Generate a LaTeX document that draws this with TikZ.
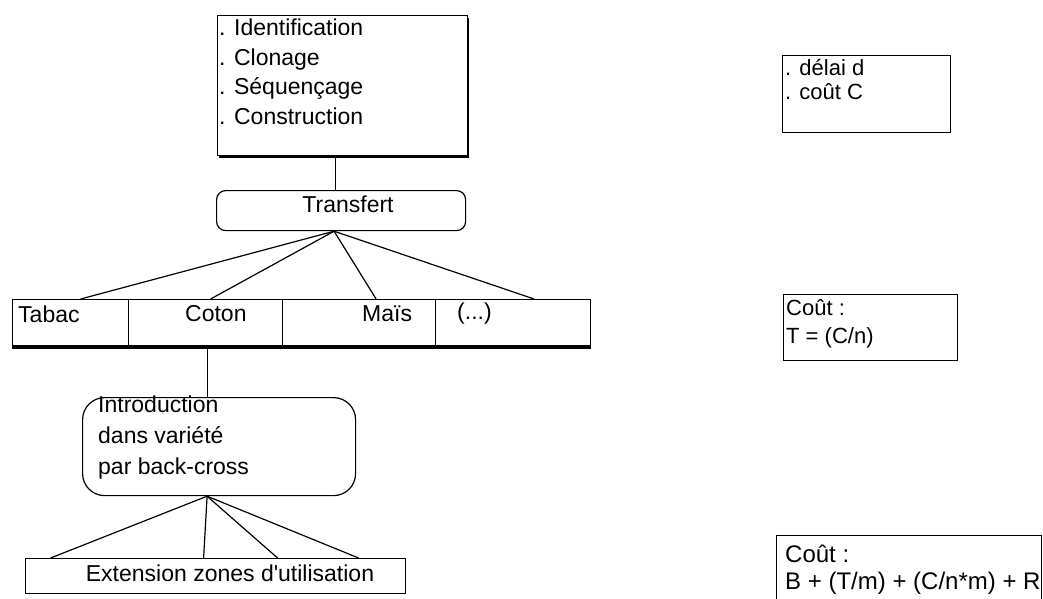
\documentclass[tikz,border=0pt]{standalone}
\usepackage{fontspec}
\setmainfont{Liberation Sans}
\usetikzlibrary{shadows}

\tikzset{
  frame/.style={draw, line width=1.2pt, inner sep=0pt, anchor=north west},
  shadowed/.style={frame, fill=white, drop shadow={shadow xshift=1.6pt, shadow yshift=-2.6pt, opacity=1, fill=black}},
  roundframe/.style={frame, rounded corners=#1},
  txt/.style={inner sep=0pt, anchor=north west, align=left},
  link/.style={line width=1.2pt},
}

\begin{document}
\begin{tikzpicture}[x=1pt, y=-1pt, every node/.style={font=\fontsize{23}{29.5}\selectfont}]
\useasboundingbox (0,0) rectangle (1043,598);

\node[shadowed, minimum width=250pt, minimum height=140pt] (ident) at (217,15) {};
\node[txt] (identtxt) at (219,19) {. Identification\\. Clonage\\. Séquençage\\. Construction};

\node[roundframe=9pt, minimum width=249pt, minimum height=40pt] (transfert) at (216,190) {};
\node (transferttxt) at (348,204) {Transfert};

\node[frame, minimum width=116pt, minimum height=46pt] (tabac) at (12,299) {};
\node[frame, minimum width=154pt, minimum height=46pt] (coton) at (128,299) {};
\node[frame, minimum width=153pt, minimum height=46pt] (mais) at (282,299) {};
\node[frame, minimum width=155pt, minimum height=46pt] (etc) at (435,299) {};
\draw[line width=2.6pt] ([yshift=-1pt]tabac.south west) -- ([yshift=-1pt]etc.south east);
\node[inner sep=0pt, anchor=west] (tabactxt) at ([shift={(6,15)}]tabac.north west) {Tabac};
\node[inner sep=0pt, anchor=west] (cotontxt) at ([shift={(57,15)}]coton.north west) {Coton};
\node[inner sep=0pt, anchor=west] (maistxt) at ([shift={(80,15)}]mais.north west) {Maïs};
\node[inner sep=0pt, anchor=west] (etctxt) at ([shift={(22,15)}]etc.north west) {(...)};

\node[roundframe=22pt, minimum width=273pt, minimum height=98pt] (intro) at (82,397) {};
\node[txt, font=\fontsize{23}{31}\selectfont] (introtxt) at (98,396) {Introduction\\dans variété\\par back-cross};

\node[frame, minimum width=380pt, minimum height=35pt] (ext) at (25,558) {};
\node (exttxt) at ([shift={(205,15)}]ext.north west) {Extension zones d\textquotesingle utilisation};

\node[frame, line width=1pt, minimum width=168pt, minimum height=77pt] (delai) at (782,55) {};
\node[txt, font=\fontsize{22}{24}\selectfont] (delaitxt) at (785,59) {. délai d\\. coût C};

\node[frame, line width=1pt, minimum width=174pt, minimum height=66pt] (coutt) at (783,294) {};
\node[txt, font=\fontsize{22}{28}\selectfont] (coutttxt) at (786,299) {Coût :\\T = (C/n)};

\node[frame, line width=1pt, minimum width=265pt, minimum height=80pt] (coutb) at (776,535) {};
\node[txt, font=\fontsize{24}{27}\selectfont] (coutbtxt) at (785,545) {Coût :\\B + (T/m) + (C/n*m) + R};

\draw[link] ([xshift=-7pt]ident.south) -- ([xshift=-7pt]ident.south |- transfert.north);
\coordinate (tr) at ([xshift=-7pt]transfert.south);
\foreach \n/\d in {tabac/10, coton/5, mais/17, etc/21}
  \draw[link] (tr) -- ([xshift=\d pt]\n.north);
\draw[link] ([xshift=2pt]coton.south) -- ([xshift=2pt]coton.south |- intro.north);
\coordinate (ib) at ([xshift=-12pt]intro.south);
\foreach \d in {-165,-12,62,143}
  \draw[link] (ib) -- ([xshift=\d pt]ext.north);

\end{tikzpicture}
\end{document}
